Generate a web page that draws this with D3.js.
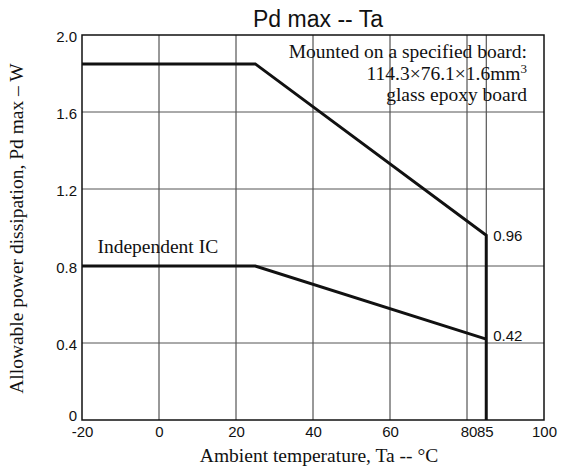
<!DOCTYPE html>
<html>
<head>
<meta charset="utf-8">
<script src="https://cdn.jsdelivr.net/npm/d3@7"></script>
<style>
  body { margin: 0; background: #fff; }
</style>
</head>
<body>
<div id="chart"></div>
<script>
// data
const boardTemp = [-20, 25, 85, 85];
const boardPd = [1.85, 1.85, 0.96, 0];
const icTemp = [-20, 25, 85];
const icPd = [0.8, 0.8, 0.42];
const xTicks = [-20, 0, 20, 40, 60, 80, 85, 100];
const yTicks = [0, 0.4, 0.8, 1.2, 1.6, 2.0];
const endLabels = [{ t: 85, v: 0.96, text: "0.96" }, { t: 85, v: 0.42, text: "0.42" }];

const width = 566, height = 469;
const margin = { top: 35, right: 22, bottom: 49, left: 82 };
const w = width - margin.left - margin.right;
const h = height - margin.top - margin.bottom;

const svg = d3.select("#chart")
  .append("svg")
  .attr("width", width)
  .attr("height", height)
  .style("font-family", "'Liberation Sans', Arial, sans-serif");

const g = svg.append("g")
  .attr("transform", "translate(" + margin.left + "," + margin.top + ")");

const x = d3.scaleLinear().domain([-20, 100]).range([0, w]);
const y = d3.scaleLinear().domain([0, 2.0]).range([h, 0]);

// grid
g.append("g")
  .selectAll("line")
  .data(xTicks.filter(d => d > -20 && d < 100))
  .enter()
  .append("line")
  .attr("x1", d => x(d)).attr("x2", d => x(d))
  .attr("y1", 0).attr("y2", h)
  .attr("stroke", "#333").attr("stroke-width", 1);

g.append("g")
  .selectAll("line")
  .data(yTicks.filter(d => d > 0 && d < 2))
  .enter()
  .append("line")
  .attr("x1", 0).attr("x2", w)
  .attr("y1", d => y(d)).attr("y2", d => y(d))
  .attr("stroke", "#555").attr("stroke-width", 1);

// axes (labels only)
const xAxis = g.append("g")
  .attr("transform", "translate(0," + h + ")")
  .call(d3.axisBottom(x).tickValues(xTicks).tickSize(0).tickPadding(6)
    .tickFormat(d => String(d)));
xAxis.select(".domain").remove();
xAxis.selectAll("text")
  .attr("font-size", 15).attr("fill", "#111").attr("font-family", null)
  .attr("dx", d => d === 80 ? 1.5 : d === 85 ? -1.5 : 0);

const yAxis = g.append("g")
  .call(d3.axisLeft(y).tickValues(yTicks).tickSize(0).tickPadding(5)
    .tickFormat(d => d === 0 ? "0" : d3.format(".1f")(d)));
yAxis.select(".domain").remove();
yAxis.selectAll("text")
  .attr("font-size", 15).attr("fill", "#111").attr("font-family", null)
  .attr("dy", d => d === 0 ? "0em" : "0.45em");

// frame
g.append("rect")
  .attr("width", w).attr("height", h)
  .attr("fill", "none").attr("stroke", "#111").attr("stroke-width", 1.5);

// curves
const line = d3.line().x(d => x(d[0])).y(d => y(d[1]));
g.append("path")
  .datum(d3.zip(boardTemp, boardPd))
  .attr("d", line)
  .attr("fill", "none").attr("stroke", "#111").attr("stroke-width", 3)
  .attr("stroke-linejoin", "miter");
g.append("path")
  .datum(d3.zip(icTemp, icPd))
  .attr("d", line)
  .attr("fill", "none").attr("stroke", "#111").attr("stroke-width", 3);

// end value labels
g.selectAll(".endlbl")
  .data(endLabels)
  .enter()
  .append("text")
  .attr("x", d => x(d.t) + 7)
  .attr("y", (d, i) => y(d.v) + (i === 0 ? 6 : 2))
  .attr("font-size", 15).attr("fill", "#111")
  .text(d => d.text);

// annotations
const serif = "'Liberation Serif', 'Times New Roman', serif";
const note = g.append("text")
  .attr("text-anchor", "end")
  .attr("font-family", serif).attr("font-size", 19.5).attr("fill", "#111");
note.append("tspan").attr("x", w - 17).attr("y", 23).text("Mounted on a specified board:");
const l2 = note.append("tspan").attr("x", w - 17).attr("y", 45);
l2.append("tspan").text("114.3×76.1×1.6mm");
l2.append("tspan").attr("dy", -7).attr("font-size", 13).text("3");
note.append("tspan").attr("x", w - 17).attr("y", 66).text("glass epoxy board");

g.append("text")
  .attr("x", x(-16)).attr("y", y(0.8) - 13)
  .attr("font-family", serif).attr("font-size", 19.5).attr("fill", "#111")
  .text("Independent IC");

// titles
svg.append("text")
  .attr("x", margin.left + w / 2 + 5).attr("y", 27)
  .attr("text-anchor", "middle")
  .attr("font-size", 23).attr("fill", "#111")
  .text("Pd max -- Ta");

svg.append("text")
  .attr("x", margin.left + w / 2 + 6).attr("y", 462)
  .attr("text-anchor", "middle")
  .attr("font-family", serif).attr("font-size", 19.5).attr("fill", "#111")
  .text("Ambient temperature, Ta -- °C");

svg.append("text")
  .attr("transform", "translate(23," + (margin.top + h / 2 + 1) + ") rotate(-90)")
  .attr("text-anchor", "middle")
  .attr("font-family", serif).attr("font-size", 19.5).attr("fill", "#111")
  .text("Allowable power dissipation, Pd max – W");
</script>
</body>
</html>
